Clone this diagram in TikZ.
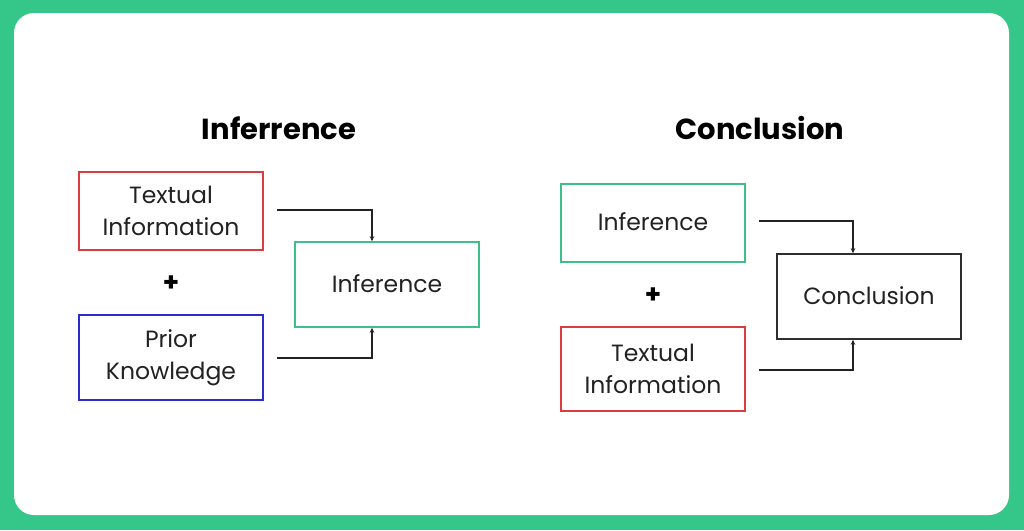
\documentclass[tikz,border=0pt]{standalone}
\usepackage{fontspec}
\setmainfont{Poppins}
\usetikzlibrary{arrows.meta}
\definecolor{bggreen}{HTML}{35C68A}
\definecolor{boxred}{HTML}{DD3B3F}
\definecolor{boxblue}{HTML}{2B2BD3}
\definecolor{boxgreen}{HTML}{3DBF8A}
\definecolor{boxdark}{HTML}{2E2E2E}
\definecolor{txt}{HTML}{222222}
\begin{document}
\begin{tikzpicture}[x=1pt,y=-1pt,
  card/.style={draw,line width=1.6pt,minimum width=184pt,minimum height=80pt,align=center,inner sep=0pt,font=\fontsize{23.5}{32}\selectfont,text=txt},
  ttl/.style={font=\fontsize{29}{34}\selectfont\bfseries,text=black},
  plus/.style={font=\fontsize{26}{26}\selectfont\bfseries,text=black},
  conn/.style={draw=txt,line width=1.2pt,-{Stealth[length=5pt,width=4.5pt]}}]
\useasboundingbox (0,0) rectangle (1024,530);
\fill[bggreen] (0,0) rectangle (1024,530);
\fill[white,rounded corners=20pt] (14,13) rectangle (1009,515);
% left
\node[ttl] (t1) at (279,128) {Inferrence};
\node[card,draw=boxred,minimum height=78pt] (ti1) at (171,211) {Textual\\Information};
\node[card,draw=boxblue,minimum height=85pt] (pk) at (171,357.5) {Prior\\Knowledge};
\node[card,draw=boxgreen,minimum height=85pt] (inf1) at (387,284.5) {\raisebox{2pt}{Inference}};
\node[plus] (p1) at (171,284) {+};
\coordinate (a1) at (277,210);
\coordinate (a2) at (277,358);
\draw[conn] (a1) -| (inf1.north -| 372,0);
\draw[conn] (a2) -| (inf1.south -| 372,0);
% right
\node[ttl] (t2) at (760,128) {Conclusion};
\node[card,draw=boxgreen,minimum height=78pt] (inf2) at (653,223) {\raisebox{2pt}{Inference}};
\node[card,draw=boxred,minimum height=84pt] (ti2) at (653,369) {Textual\\Information};
\node[card,draw=boxdark,minimum height=85pt] (con) at (869,296.5) {\raisebox{2pt}{Conclusion}};
\node[plus] (p2) at (653,296) {+};
\coordinate (b1) at (759,221);
\coordinate (b2) at (759,370);
\draw[conn] (b1) -| (con.north -| 853,0);
\draw[conn] (b2) -| (con.south -| 853,0);
\end{tikzpicture}
\end{document}
